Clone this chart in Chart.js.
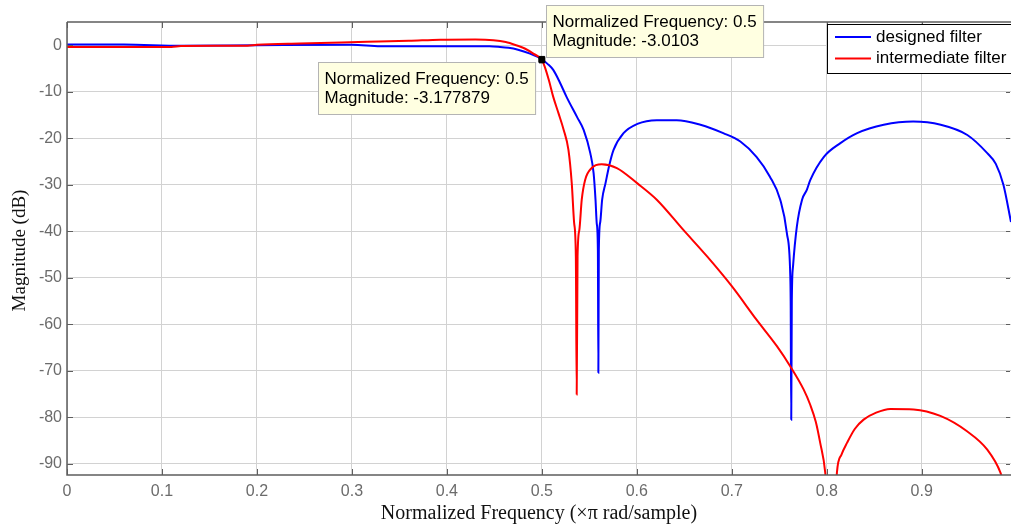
<!DOCTYPE html>
<html>
<head>
<meta charset="utf-8">
<title>Magnitude response</title>
<script src="https://cdn.jsdelivr.net/npm/chart.js@4.4.1/dist/chart.umd.min.js"></script>
<style>
  html, body { margin: 0; padding: 0; background: #fff; }
  #wrap { width: 1011px; height: 527px; position: relative; overflow: hidden; }
</style>
</head>
<body>
<div id="wrap"><canvas id="c" width="1011" height="527"></canvas></div>
<script>
// tick labels
const xTicks = [0, 0.1, 0.2, 0.3, 0.4, 0.5, 0.6, 0.7, 0.8, 0.9];
const yTicks = [-90, -80, -70, -60, -50, -40, -30, -20, -10, 0];

// designed filter (blue)
const designedFreq = [0, 0.06, 0.12, 0.2, 0.3, 0.33, 0.42, 0.445, 0.456, 0.465, 0.474, 0.4876, 0.5,
  0.506, 0.512, 0.519, 0.526, 0.537, 0.544, 0.551, 0.5545, 0.5565, 0.5578, 0.559, 0.5595, 0.56,
  0.5615, 0.5635, 0.567, 0.571, 0.5755, 0.586, 0.6006, 0.621, 0.642, 0.667, 0.691, 0.709, 0.726,
  0.74, 0.751, 0.758, 0.7615, 0.762, 0.7626, 0.7632, 0.7645, 0.7685, 0.774, 0.779, 0.7826, 0.797,
  0.814, 0.832, 0.86, 0.891, 0.92, 0.948, 0.969, 0.978, 0.986, 0.994];
const designedMag = [0.15, 0.15, -0.1, 0, 0.1, -0.2, -0.2, -0.2, -0.35, -0.55, -0.9, -1.8, -3.0103,
  -4.0, -5.3, -8, -11.1, -15.4, -18.2, -23.2, -27.5, -33.2, -38.3, -44, -70.4, -44,
  -38, -33.2, -29.7, -25.8, -22.5, -18.9, -16.9, -16.1, -16.1, -17.1, -18.9, -20.7, -24,
  -28.2, -33.2, -40.4, -49, -55, -80.5, -55, -47.5, -39, -33.2, -31.1, -29, -24,
  -21.1, -18.9, -17.1, -16.4, -17.1, -19.3, -23.2, -25.5, -30, -38];

// intermediate filter (red)
const interFreq = [0, 0.11, 0.12, 0.19, 0.2, 0.245, 0.316, 0.36, 0.393, 0.43, 0.449, 0.462, 0.473,
  0.482, 0.491, 0.5, 0.503, 0.5075, 0.512, 0.5175, 0.523, 0.528, 0.5315, 0.534, 0.5358, 0.5367,
  0.5376, 0.5395, 0.542, 0.5455, 0.5525, 0.563, 0.579, 0.6006, 0.621, 0.649, 0.674, 0.7, 0.726,
  0.7475, 0.7615, 0.7756, 0.7826, 0.7885, 0.7931, 0.7984, 0.801, 0.805, 0.809, 0.8107, 0.8155,
  0.8213, 0.8295, 0.8388, 0.852, 0.8669, 0.8915, 0.9196, 0.9477, 0.9688, 0.9829, 0.99];
const interMag = [-0.35, -0.35, -0.15, -0.1, 0.1, 0.4, 0.73, 0.95, 1.2, 1.25, 1.1, 0.7, 0,
  -0.7, -1.8, -3.177879, -4.6, -7.6, -11.1, -14.6, -18.2, -22.5, -29.7, -38.2, -45.4, -75.1,
  -45.4, -39.7, -33.2, -29, -26.4, -25.6, -26.4, -29.7, -33.2, -39.7, -45.4, -51.8, -59,
  -64.7, -69, -74, -77.3, -81, -85.5, -91.9, -100, -115, -100, -91.9, -88,
  -85.5, -82.5, -80.5, -79, -78.2, -78.3, -79.7, -83, -86.9, -91.9, -97];

// data tips
const tipFreq = [0.5, 0.5];
const tipMag = [-3.0103, -3.177879];

const toPts = (xs, ys) => xs.map((x, i) => ({x: x, y: ys[i]}));

const tickFont = {family: "'Liberation Sans', Arial, sans-serif", size: 16};
const gridColor = '#d2d2d2';
const frameColor = '#5e5e5e';
const PLOT_RIGHT = 1011;

const frame = {
  id: 'frame',
  // the plot box runs right up to the figure edge, the way the original was cropped
  afterLayout(chart) {
    const a = chart.chartArea;
    const x = chart.scales.x;
    if (a.right !== PLOT_RIGHT) {
      a.right = PLOT_RIGHT;
      a.width = a.right - a.left;
      x.right = PLOT_RIGHT;
      x.width = x.right - x.left;
      x.configure();
    }
  },
  afterDraw(chart) {
    const ctx = chart.ctx;
    const a = chart.chartArea;
    const xs = chart.scales.x, ys = chart.scales.y;
    ctx.save();
    // box
    ctx.strokeStyle = frameColor;
    ctx.lineWidth = 1.5;
    ctx.beginPath();
    ctx.moveTo(a.left, a.top); ctx.lineTo(a.left, a.bottom); ctx.lineTo(a.right, a.bottom);
    ctx.moveTo(a.left, a.top); ctx.lineTo(a.right, a.top);
    ctx.stroke();
    // inward ticks
    ctx.lineWidth = 1;
    ctx.beginPath();
    xTicks.forEach(v => {
      const p = Math.round(xs.getPixelForValue(v)) + 0.5;
      ctx.moveTo(p, a.bottom); ctx.lineTo(p, a.bottom - 6);
      ctx.moveTo(p, a.top); ctx.lineTo(p, a.top + 6);
    });
    yTicks.forEach(v => {
      const p = Math.round(ys.getPixelForValue(v)) + 0.5;
      ctx.moveTo(a.left, p); ctx.lineTo(a.left + 6, p);
      ctx.moveTo(a.right - 1, p); ctx.lineTo(a.right - 5, p);
    });
    ctx.stroke();

    // axis titles
    ctx.fillStyle = '#111';
    ctx.font = "20px 'Liberation Serif', 'Times New Roman', serif";
    ctx.textAlign = 'center';
    ctx.textBaseline = 'middle';
    ctx.fillText('Normalized Frequency (\u00d7\u03c0 rad/sample)', (a.left + a.right) / 2, 514);
    ctx.save();
    ctx.font = "19px 'Liberation Serif', 'Times New Roman', serif";
    ctx.translate(20, (a.top + a.bottom) / 2 + 2);
    ctx.rotate(-Math.PI / 2);
    ctx.fillText('Magnitude (dB)', 0, 0);
    ctx.restore();

    // legend
    const lx = 827.5, ly = 24.5, lw = 190, lh = 49;
    ctx.fillStyle = '#fff';
    ctx.fillRect(lx, ly, lw, lh);
    ctx.strokeStyle = '#000';
    ctx.lineWidth = 1;
    ctx.strokeRect(lx, ly, lw, lh);
    ctx.font = "17px 'Liberation Sans', Arial, sans-serif";
    ctx.textAlign = 'left';
    ctx.textBaseline = 'middle';
    [0, 1].forEach((k, i) => {
      const ds = chart.data.datasets[k];
      const yy = ly + 12.5 + i * 21.5;
      ctx.strokeStyle = ds.borderColor;
      ctx.lineWidth = 2;
      ctx.beginPath(); ctx.moveTo(835, yy); ctx.lineTo(871, yy); ctx.stroke();
      ctx.fillStyle = '#000';
      ctx.fillText(ds.label, 876, yy);
    });

    // data tips
    ctx.font = "17px 'Liberation Sans', Arial, sans-serif";
    tipFreq.forEach((f, i) => {
      const px = xs.getPixelForValue(f), py = ys.getPixelForValue(tipMag[i]);
      const lines = ['Normalized Frequency: ' + f, 'Magnitude: ' + tipMag[i]];
      const w = Math.max(...lines.map(t => ctx.measureText(t).width)) + 13;
      const h = 52;
      let bx, by;
      if (i === 0) { bx = px + 4; by = py - 2 - h; }
      else { bx = px - 7 - w; by = py + 2; }
      bx = Math.round(bx) + 0.5; by = Math.round(by) + 0.5;
      ctx.fillStyle = '#ffffe1';
      ctx.fillRect(bx, by, w, h);
      ctx.strokeStyle = '#b4b4b4';
      ctx.lineWidth = 1;
      ctx.strokeRect(bx, by, w, h);
      ctx.fillStyle = '#000';
      ctx.textAlign = 'left';
      lines.forEach((t, j) => ctx.fillText(t, bx + 6, by + 17 + j * 18.5));
    });
    ctx.restore();
  }
};

const lineStyle = {borderWidth: 2, pointRadius: 0, cubicInterpolationMode: 'monotone'};

new Chart(document.getElementById('c'), {
  type: 'line',
  data: {
    datasets: [
      Object.assign({label: 'designed filter', data: toPts(designedFreq, designedMag),
        borderColor: '#0000ff', order: 2}, lineStyle),
      Object.assign({label: 'intermediate filter', data: toPts(interFreq, interMag),
        borderColor: '#ff0000', order: 1}, lineStyle),
      {label: 'tips', type: 'scatter', data: toPts(tipFreq, tipMag), pointStyle: 'rect',
       pointRadius: 4, backgroundColor: '#000', borderColor: '#000', order: 0}
    ]
  },
  options: {
    responsive: false,
    animation: false,
    devicePixelRatio: 1,
    layout: {padding: {top: 22, right: 0, bottom: 0, left: 0}},
    plugins: {legend: {display: false}, tooltip: {enabled: false}},
    scales: {
      x: {
        type: 'linear', min: 0, max: 0.994,
        afterBuildTicks: s => { s.ticks = xTicks.map(v => ({value: v})); },
        afterFit: s => { s.height = 52; },
        grid: {color: gridColor, drawTicks: false, lineWidth: 1},
        border: {display: false},
        ticks: {color: '#6b6b6b', font: tickFont, padding: 7, maxRotation: 0,
                callback: v => v === 0 ? '0' : v.toFixed(1)}
      },
      y: {
        type: 'linear', min: -92.4, max: 5,
        afterBuildTicks: s => { s.ticks = yTicks.map(v => ({value: v})); },
        afterFit: s => { s.width = 67; },
        grid: {color: gridColor, drawTicks: false, lineWidth: 1},
        border: {display: false},
        ticks: {color: '#6b6b6b', font: tickFont, padding: 5, callback: v => String(v)}
      }
    }
  },
  plugins: [frame]
});
</script>
</body>
</html>
